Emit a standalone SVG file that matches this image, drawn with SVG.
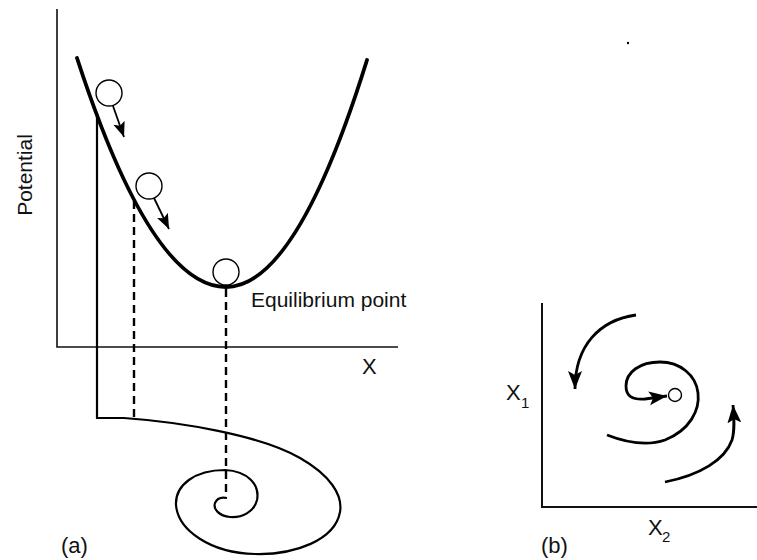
<svg xmlns="http://www.w3.org/2000/svg" width="757" height="560" viewBox="0 0 757 560">
<style>
text{font-family:"Liberation Sans",Arial,Helvetica,sans-serif;fill:#111}
.ax{stroke:#111;stroke-width:1.6;fill:none}
.curve{stroke:#000;stroke-width:3.8;fill:none;stroke-linecap:round}
.thin{stroke:#000;stroke-width:2.2;fill:none}
.dash{stroke:#000;stroke-width:2.4;fill:none;stroke-dasharray:8 5}
.ball{stroke:#000;stroke-width:1.4;fill:#fff}
.arr{stroke:#000;stroke-width:1.8;fill:none;marker-end:url(#ah)}
.arrb{stroke:#000;stroke-width:2.8;fill:none;marker-end:url(#ahb)}
</style>
<defs>
<marker id="ah" markerUnits="userSpaceOnUse" markerWidth="16" markerHeight="13" refX="15" refY="6" orient="auto"><path d="M0,0 L15,6 L0,12 L3,6 Z" fill="#000"/></marker>
<marker id="ahb" markerUnits="userSpaceOnUse" markerWidth="19" markerHeight="15" refX="18" refY="7" orient="auto"><path d="M0,0 L18,7 L0,14 L4,7 Z" fill="#000"/></marker>
</defs>
<rect width="757" height="560" fill="#fff"/>

<g id="panel-a-axes">
<path class="ax" d="M57,9 V347 H398"/>
<text x="362" y="374" font-size="22">X</text>
<text transform="translate(32,175) rotate(-90)" font-size="21" text-anchor="middle">Potential</text>
<text x="61" y="553" font-size="22">(a)</text>
</g>

<g id="potential-curve">
<path class="curve" d="M77,58 Q151.5,287 226,287 Q296.5,287 367,60"/>
<text x="251" y="307" font-size="21">Equilibrium point</text>
</g>

<g id="ball1"><circle class="ball" cx="109" cy="93" r="13"/></g>
<g id="ball2"><circle class="ball" cx="149" cy="186" r="13"/></g>
<g id="ball3"><circle class="ball" cx="226" cy="272" r="13"/></g>

<g id="connectors">
<path class="arr" d="M113,106 L124,137"/>
<path class="arr" d="M154,198 L169,229"/>
<path class="dash" d="M134,201 V419"/>
<path class="dash" d="M226,289 V497"/>
<path class="thin" d="M97,113 V418 H124 C180,422 260,435 300,458 C330,475 343,495 340,512 C335,540 295,555 255,554 C210,553 178,530 176,505 C175,485 195,470 225,470 C248,471 260,485 257,500 C254,512 242,518 230,517 C219,516 213,509 215,503 C217,498 222,497 227,498"/>
</g>

<g id="panel-b">
<path class="ax" d="M542,303 V507 H757" style="stroke-width:2"/>
<text x="506" y="400" font-size="22">X</text>
<text x="521" y="408" font-size="15">1</text>
<text x="648" y="535" font-size="22">X</text>
<text x="662" y="542" font-size="15">2</text>
<text x="541" y="553" font-size="22">(b)</text>
<circle cx="628" cy="43" r="1.2" fill="#000"/>
</g>

<g id="equilibrium-b"><circle class="ball" cx="675" cy="395" r="6.5"/></g>

<g id="flow-arrows">
<path class="arrb" d="M636,315 C600,320 575,345 575,389"/>
<path class="arrb" d="M607,435 C625,442 645,447 665,440 C690,430 700,410 698,393 C696,375 680,362 660,362 C640,362 626,372 626,386 C626,396 632,400 645,399 L667,396"/>
<path class="arrb" d="M665,482 C700,475 725,460 732,440 C735,430 734,418 733,405"/>
</g>
</svg>
